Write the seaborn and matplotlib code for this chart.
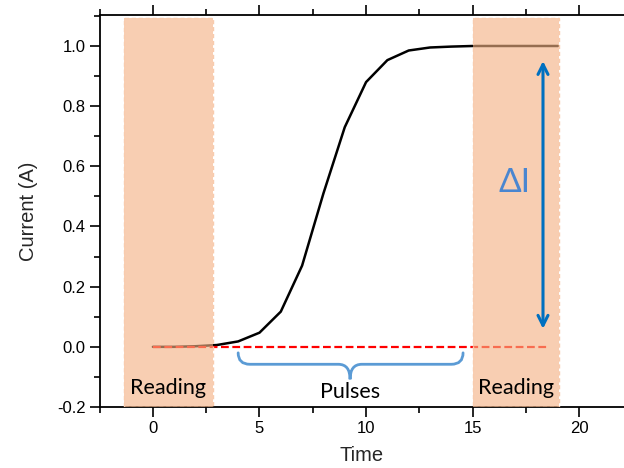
import numpy as np
import pandas as pd
import matplotlib
matplotlib.use("Agg")
import matplotlib.pyplot as plt
import seaborn as sns
from matplotlib.patches import Rectangle, PathPatch
from matplotlib.path import Path
from matplotlib.ticker import MultipleLocator

# ---- data ----
time = [0, 1, 2, 3, 4, 5, 6, 7, 8, 9, 10, 11, 12, 13, 14, 15, 16, 17, 18, 19]
current = [0.0, 0.0, 0.002, 0.006, 0.018, 0.047, 0.117, 0.27, 0.51, 0.73,
           0.88, 0.953, 0.985, 0.995, 0.998, 1.0, 1.0, 1.0, 1.0, 1.0]
baseline_x = [0, 18.6]
baseline_y = [0.0, 0.0]
reading_windows = [(-1.35, 2.8), (15.0, 19.05)]
pulses_span = (4.0, 14.55)
delta_x = 18.3
delta_range = (0.06, 0.95)
x_ticks = [0, 5, 10, 15, 20]
y_ticks = [-0.2, 0.0, 0.2, 0.4, 0.6, 0.8, 1.0]

sns.set_style("ticks")
plt.rcParams['font.family'] = ['Liberation Sans', 'DejaVu Sans']

fig = plt.figure(figsize=(6.24, 4.68), dpi=100)
ax = fig.add_axes([99.6 / 624, 61 / 468, (624 - 99.6) / 624, 392 / 468])

df = pd.DataFrame({"Time": time, "Current": current})
sns.lineplot(data=df, x="Time", y="Current", ax=ax, color="black", lw=1.8, zorder=2)
dfb = pd.DataFrame({"Time": baseline_x, "Current": baseline_y})
sns.lineplot(data=dfb, x="Time", y="Current", ax=ax, color="#FF0000", lw=1.6,
             linestyle=(0, (3.5, 1.6)), zorder=2)

# reading windows
for x0, x1 in reading_windows:
    ax.add_patch(Rectangle((x0, -0.2), x1 - x0, 1.293, facecolor="#F4B183",
                           alpha=0.62, edgecolor="none", zorder=3))
    ax.add_patch(Rectangle((x0, -0.2), x1 - x0, 1.293, facecolor="none",
                           edgecolor="#F8CBAD", lw=1.0, linestyle=(0, (3, 2)), zorder=3))
    ax.text((x0 + x1) / 2, -0.138, "Reading", ha="center", va="center",
            fontsize=15.5, family=["Lato", "DejaVu Sans"], color="black", zorder=5)

# delta I arrow
ax.annotate("", xy=(delta_x, delta_range[1]), xytext=(delta_x, delta_range[0]),
            arrowprops=dict(arrowstyle="<->", color="#0070C0", lw=2.2,
                            mutation_scale=18, shrinkA=0, shrinkB=0), zorder=5)
ax.text(16.95, 0.545, "ΔI", ha="center", va="center", fontsize=24,
        family=["Lato", "DejaVu Sans"], color="#4A86D0", zorder=5)

# pulses brace
bx0, bx1 = pulses_span
bm = 9.25
ytop, ymid, ytip = -0.02, -0.058, -0.108
dx = 0.55
verts = [(bx0, ytop), (bx0, ymid), (bx0 + dx, ymid),
         (bm - dx, ymid), (bm, ymid), (bm, ytip),
         (bm, ymid), (bm + dx, ymid),
         (bx1 - dx, ymid), (bx1, ymid), (bx1, ytop)]
codes = [Path.MOVETO, Path.CURVE3, Path.CURVE3,
         Path.LINETO, Path.CURVE3, Path.CURVE3,
         Path.CURVE3, Path.CURVE3,
         Path.LINETO, Path.CURVE3, Path.CURVE3]
ax.add_patch(PathPatch(Path(verts, codes), facecolor="none", edgecolor="#5B9BD5",
                       lw=2.0, zorder=5, capstyle="round"))
ax.text(bm, -0.15, "Pulses", ha="center", va="center", fontsize=15.5,
        family=["Lato", "DejaVu Sans"], color="black", zorder=5)

ax.set_xlim(-2.5, 22.1)
ax.set_ylim(-0.2, 1.103)
ax.set_xticks(x_ticks)
ax.set_yticks(y_ticks)
ax.set_yticklabels([f"{v:.1f}" for v in y_ticks])
ax.xaxis.set_minor_locator(MultipleLocator(2.5))
ax.yaxis.set_minor_locator(MultipleLocator(0.1))
ax.tick_params(which="both", direction="out", width=1.2, top=True, right=False,
               labelsize=12, color="black", labelcolor="black")
ax.tick_params(which="major", length=7)
ax.tick_params(which="minor", length=4)
ax.tick_params(axis="x", pad=3)
ax.tick_params(axis="y", pad=3)
for s in ["left", "bottom", "top"]:
    ax.spines[s].set_visible(True)
    ax.spines[s].set_linewidth(1.3)
    ax.spines[s].set_color("black")
ax.spines["right"].set_visible(False)
ax.set_xlabel("Time", fontsize=14.5, labelpad=7)
ax.set_ylabel("Current (A)", fontsize=14.5, labelpad=14)
ax.grid(False)

fig.savefig("out.png", dpi=100)
